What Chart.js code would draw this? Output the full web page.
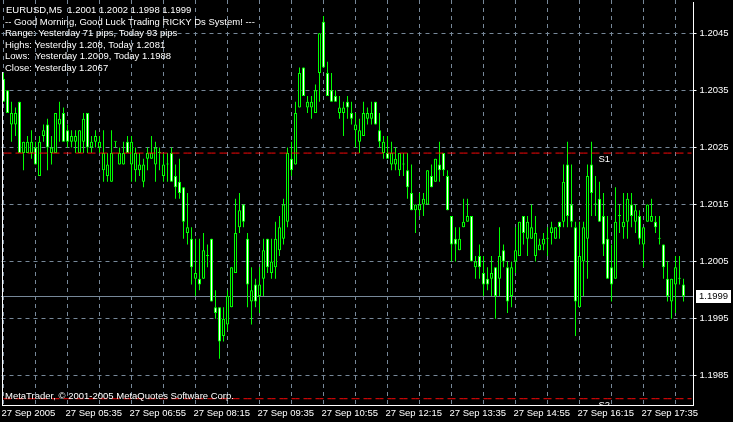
<!DOCTYPE html>
<html>
<head>
<meta charset="utf-8">
<script src="https://cdn.jsdelivr.net/npm/chart.js"></script>
<style>
  html, body { margin: 0; padding: 0; background: #000; }
  canvas { display: block; }
</style>
</head>
<body>
<canvas id="chart" width="733" height="422"></canvas>
<script>
// EURUSD M5, 27 Sep 2005, one bar every 5 minutes starting 04:15
const symbol = 'EURUSD,M5';
const firstBarMinute = 4 * 60 + 15;
const emptyBarsRight = 2;

const opens = [
    1.2037, 1.2035, 1.2029, 1.2029, 1.2033, 1.2024, 1.2024, 1.2024, 1.2025, 1.2020,
    1.2027, 1.2029, 1.2024, 1.2024, 1.2029, 1.2031, 1.2028, 1.2026, 1.2026, 1.2024,
    1.2026, 1.2031, 1.2025, 1.2026, 1.2025, 1.2021, 1.2020, 1.2019, 1.2026, 1.2022,
    1.2022, 1.2026, 1.2022, 1.2021, 1.2021, 1.2019, 1.2023, 1.2023, 1.2022, 1.2024,
    1.2020, 1.2022, 1.2024, 1.2020, 1.2019, 1.2018, 1.2010, 1.2009, 1.2002, 1.2002,
    1.2002, 1.2006, 1.2009, 1.1997, 1.1997, 1.1992, 1.1994, 1.1997, 1.2003, 1.2011,
    1.2015, 1.2009, 1.1998, 1.2001, 1.1999, 1.2002, 1.2009, 1.2003, 1.2004, 1.2007,
    1.2009, 1.2012, 1.2023, 1.2022, 1.2032, 1.2039, 1.2032, 1.2032, 1.2031, 1.2038,
    1.2047, 1.2038, 1.2035, 1.2034, 1.2031, 1.2031, 1.2033, 1.2031, 1.2028, 1.2026,
    1.2027, 1.2030, 1.2030, 1.2033, 1.2028, 1.2024, 1.2024, 1.2022, 1.2022, 1.2021,
    1.2022, 1.2021, 1.2017, 1.2014, 1.2014, 1.2015, 1.2015, 1.2020, 1.2019, 1.2022,
    1.2024, 1.2020, 1.2013, 1.2009, 1.2007, 1.2011, 1.2012, 1.2013, 1.2004, 1.2006,
    1.2003, 1.2002, 1.2002, 1.2004, 1.2002, 1.2007, 1.2004, 1.1999, 1.2005, 1.2006,
    1.2013, 1.2009, 1.2009, 1.2006, 1.2007, 1.2008, 1.2009, 1.2010, 1.2009, 1.2012,
    1.2012, 1.2022, 1.2015, 1.2011, 1.1997, 1.2005, 1.2009, 1.2022, 1.2015, 1.2016,
    1.2013, 1.2009, 1.2004, 1.2002, 1.2013, 1.2011, 1.2012, 1.2015, 1.2012, 1.2013,
    1.2008, 1.2012, 1.2012, 1.2012, 1.2009, 1.2008, 1.2002, 1.1998, 1.2001, 1.2002,
    1.2001
];
const highs = [
    1.2038, 1.2035, 1.2033, 1.2032, 1.2033, 1.2026, 1.2027, 1.2028, 1.2026, 1.2027,
    1.2029, 1.2030, 1.2027, 1.2031, 1.2033, 1.2032, 1.2029, 1.2028, 1.2028, 1.2028,
    1.2031, 1.2031, 1.2027, 1.2028, 1.2027, 1.2028, 1.2024, 1.2028, 1.2026, 1.2025,
    1.2026, 1.2027, 1.2027, 1.2025, 1.2024, 1.2023, 1.2025, 1.2027, 1.2026, 1.2025,
    1.2024, 1.2024, 1.2025, 1.2022, 1.2023, 1.2018, 1.2017, 1.2011, 1.2009, 1.2009,
    1.2010, 1.2008, 1.2009, 1.2000, 1.1997, 1.1997, 1.2000, 1.2004, 1.2016, 1.2017,
    1.2015, 1.2010, 1.2004, 1.2002, 1.2004, 1.2009, 1.2009, 1.2009, 1.2012, 1.2013,
    1.2016, 1.2025, 1.2026, 1.2033, 1.2039, 1.2039, 1.2034, 1.2034, 1.2036, 1.2045,
    1.2048, 1.2040, 1.2038, 1.2035, 1.2034, 1.2033, 1.2034, 1.2033, 1.2031, 1.2030,
    1.2033, 1.2032, 1.2033, 1.2033, 1.2031, 1.2027, 1.2027, 1.2026, 1.2025, 1.2024,
    1.2024, 1.2024, 1.2022, 1.2015, 1.2017, 1.2017, 1.2021, 1.2022, 1.2023, 1.2026,
    1.2024, 1.2021, 1.2013, 1.2011, 1.2011, 1.2016, 1.2016, 1.2013, 1.2006, 1.2008,
    1.2006, 1.2004, 1.2006, 1.2004, 1.2011, 1.2008, 1.2005, 1.2005, 1.2011, 1.2012,
    1.2013, 1.2013, 1.2015, 1.2013, 1.2009, 1.2010, 1.2011, 1.2012, 1.2011, 1.2012,
    1.2022, 1.2026, 1.2022, 1.2012, 1.2012, 1.2012, 1.2022, 1.2026, 1.2020, 1.2019,
    1.2017, 1.2013, 1.2008, 1.2018, 1.2015, 1.2017, 1.2017, 1.2017, 1.2015, 1.2014,
    1.2011, 1.2015, 1.2016, 1.2013, 1.2013, 1.2008, 1.2005, 1.2002, 1.2006, 1.2006,
    1.2002
];
const lows = [
    1.2033, 1.2031, 1.2026, 1.2027, 1.2024, 1.2021, 1.2024, 1.2023, 1.2022, 1.2020,
    1.2026, 1.2021, 1.2022, 1.2024, 1.2026, 1.2026, 1.2025, 1.2025, 1.2024, 1.2024,
    1.2024, 1.2024, 1.2024, 1.2025, 1.2024, 1.2019, 1.2019, 1.2019, 1.2025, 1.2022,
    1.2022, 1.2024, 1.2019, 1.2019, 1.2020, 1.2018, 1.2021, 1.2023, 1.2019, 1.2021,
    1.2019, 1.2019, 1.2019, 1.2016, 1.2016, 1.2009, 1.2008, 1.2001, 1.1999, 1.2000,
    1.2002, 1.2004, 1.1998, 1.1995, 1.1988, 1.1991, 1.1993, 1.1997, 1.2003, 1.2010,
    1.2011, 1.1997, 1.1994, 1.1997, 1.1996, 1.1999, 1.2003, 1.2002, 1.2002, 1.2006,
    1.2008, 1.2011, 1.2020, 1.2022, 1.2032, 1.2034, 1.2031, 1.2030, 1.2031, 1.2033,
    1.2039, 1.2034, 1.2033, 1.2033, 1.2030, 1.2027, 1.2030, 1.2029, 1.2025, 1.2024,
    1.2027, 1.2029, 1.2029, 1.2029, 1.2025, 1.2023, 1.2023, 1.2021, 1.2021, 1.2020,
    1.2020, 1.2016, 1.2014, 1.2010, 1.2013, 1.2013, 1.2015, 1.2018, 1.2019, 1.2019,
    1.2020, 1.2014, 1.2005, 1.2005, 1.2007, 1.2011, 1.2012, 1.2005, 1.2002, 1.2002,
    1.1999, 1.2000, 1.1999, 1.1995, 1.1999, 1.2004, 1.1996, 1.1997, 1.2003, 1.2006,
    1.2008, 1.2006, 1.2009, 1.2005, 1.2007, 1.2007, 1.2006, 1.2008, 1.2009, 1.2009,
    1.2011, 1.2011, 1.2011, 1.1992, 1.1997, 1.1999, 1.2002, 1.2013, 1.2013, 1.2012,
    1.2006, 1.2002, 1.1998, 1.2002, 1.2010, 1.2009, 1.2009, 1.2011, 1.2010, 1.2008,
    1.2004, 1.2012, 1.2012, 1.2010, 1.2008, 1.2002, 1.1998, 1.1995, 1.1996, 1.2001,
    1.1998
];
const closes = [
    1.2033, 1.2031, 1.2031, 1.2031, 1.2024, 1.2026, 1.2026, 1.2026, 1.2022, 1.2026,
    1.2028, 1.2025, 1.2025, 1.2031, 1.2030, 1.2026, 1.2026, 1.2027, 1.2027, 1.2028,
    1.2030, 1.2025, 1.2026, 1.2027, 1.2026, 1.2024, 1.2022, 1.2024, 1.2026, 1.2024,
    1.2024, 1.2024, 1.2026, 1.2024, 1.2022, 1.2022, 1.2024, 1.2024, 1.2025, 1.2024,
    1.2022, 1.2022, 1.2019, 1.2018, 1.2017, 1.2012, 1.2011, 1.2004, 1.2003, 1.2001,
    1.2007, 1.2006, 1.1998, 1.1996, 1.1991, 1.1995, 1.1999, 1.2004, 1.2010, 1.2014,
    1.2012, 1.2001, 1.2000, 1.1998, 1.2001, 1.2007, 1.2004, 1.2005, 1.2009, 1.2011,
    1.2015, 1.2024, 1.2021, 1.2031, 1.2038, 1.2034, 1.2033, 1.2033, 1.2035, 1.2045,
    1.2039, 1.2034, 1.2033, 1.2033, 1.2032, 1.2032, 1.2032, 1.2030, 1.2029, 1.2028,
    1.2031, 1.2031, 1.2031, 1.2029, 1.2026, 1.2026, 1.2023, 1.2024, 1.2023, 1.2024,
    1.2022, 1.2018, 1.2014, 1.2015, 1.2015, 1.2016, 1.2021, 1.2018, 1.2023, 1.2021,
    1.2021, 1.2014, 1.2008, 1.2008, 1.2009, 1.2012, 1.2013, 1.2005, 1.2005, 1.2004,
    1.2001, 1.2001, 1.2003, 1.1999, 1.2006, 1.2005, 1.1998, 1.2004, 1.2007, 1.2012,
    1.2010, 1.2012, 1.2011, 1.2010, 1.2008, 1.2009, 1.2009, 1.2011, 1.2011, 1.2011,
    1.2019, 1.2013, 1.2012, 1.1998, 1.2006, 1.2011, 1.2020, 1.2017, 1.2015, 1.2012,
    1.2008, 1.2002, 1.2001, 1.2012, 1.2013, 1.2012, 1.2016, 1.2013, 1.2014, 1.2009,
    1.2011, 1.2015, 1.2013, 1.2011, 1.2009, 1.2004, 1.1999, 1.2002, 1.2004, 1.2002,
    1.1999
];

const tickLabels = [
    '27 Sep 2005', '27 Sep 05:35', '27 Sep 06:55', '27 Sep 08:15', '27 Sep 09:35', '27 Sep 10:55',
    '27 Sep 12:15', '27 Sep 13:35', '27 Sep 14:55', '27 Sep 16:15', '27 Sep 17:35'
];
const priceTicks = [1.1985, 1.1995, 1.2005, 1.2015, 1.2025, 1.2035, 1.2045];
const levelNames = ['S1', 'S2'];
const levelValues = [1.2024, 1.1981];

const infoLines = [
    '-- Good Morning, Good Luck Trading RICKY Ds System! ---',
    'Range: Yesterday 71 pips, Today 93 pips',
    'Highs: Yesterday 1.208, Today 1.2081',
    'Lows:  Yesterday 1.2009, Today 1.1988',
    'Close: Yesterday 1.2067'
];
const copyright = 'MetaTrader, \u00a9 2001-2005 MetaQuotes Software Corp.';

const green = '#00ff00';
const gridColor = '#778899';
const levelColor = 'rgb(248, 8, 8)';
const fontFamily = "'Liberation Sans', Arial, sans-serif";
const fontSize = 9.5;

// bar time labels (M5)
const barTimes = [];
for (let i = 0; i < opens.length + emptyBarsRight; i++) {
    const m = firstBarMinute + i * 5;
    barTimes.push(String(Math.floor(m / 60)).padStart(2, '0') + ':' + String(m % 60).padStart(2, '0'));
}

const last = opens.length - 1;
const lastPrice = closes[last];

// one dashed level line per support value, drawn by the library as line datasets
const levelDatasets = levelValues.map((v, i) => ({
    type: 'line',
    label: levelNames[i],
    data: barTimes.map(() => v),
    borderColor: levelColor,
    backgroundColor: levelColor,
    borderWidth: 1,
    borderDash: [8, 4],
    pointRadius: 0,
    fill: false,
    order: 0
}));

// price line, frame and text labels
const overlay = {
    id: 'overlay',
    beforeDatasetsDraw(chart) {
        const { ctx, chartArea: a, scales: { y } } = chart;
        const py = Math.round(y.getPixelForValue(lastPrice));
        ctx.save();
        ctx.fillStyle = gridColor;
        ctx.fillRect(Math.floor(a.left), py, Math.round(a.right) - Math.floor(a.left), 1);
        ctx.restore();
    },
    afterDraw(chart) {
        const { ctx, chartArea: a, scales: { x, y } } = chart;
        ctx.save();

        // frame
        ctx.fillStyle = '#ffffff';
        ctx.fillRect(2, 72, 1, Math.round(a.bottom) - 72 + 1);
        ctx.fillRect(2, Math.round(a.bottom), Math.round(a.right) - 2, 1);
        ctx.fillRect(Math.round(a.right) - 1, 2, 1, Math.round(a.bottom) - 1);

        ctx.font = fontSize + 'px ' + fontFamily;
        ctx.textBaseline = 'middle';
        ctx.textAlign = 'left';
        ctx.fillStyle = '#ffffff';

        // header + indicator comment
        const header = symbol + '  ' + opens[last].toFixed(4) + ' ' + highs[last].toFixed(4) + ' ' +
            lows[last].toFixed(4) + ' ' + closes[last].toFixed(4);
        ctx.fillText(header, 6, 10.5);
        infoLines.forEach((t, i) => ctx.fillText(t, 5, 22 + i * 11.5));
        ctx.fillText(copyright, 5, 396);

        // level names
        ctx.save();
        ctx.beginPath();
        ctx.rect(a.left, a.top, a.right - a.left, a.bottom - a.top);
        ctx.clip();
        ctx.textBaseline = 'top';
        levelNames.forEach((n, i) => {
            const ly = Math.round(y.getPixelForValue(levelValues[i]));
            ctx.fillText(n, x.getPixelForValue(149) - 1, ly + 2);
        });
        ctx.restore();

        // last price box
        const py = Math.round(y.getPixelForValue(lastPrice));
        ctx.fillStyle = '#ffffff';
        ctx.fillRect(Math.round(a.right) + 2, py - 6, 35, 13);
        ctx.fillStyle = '#000000';
        ctx.fillText(lastPrice.toFixed(4), Math.round(a.right) + 5, py + 0.5);
        ctx.restore();
    }
};

const ctx = document.getElementById('chart').getContext('2d');
new Chart(ctx, {
    type: 'bar',
    data: {
        labels: barTimes,
        datasets: [
            {
                label: 'wick',
                data: lows.map((l, i) => [l, highs[i]]),
                backgroundColor: green,
                borderWidth: 0,
                barThickness: 1,
                maxBarThickness: 1,
                categoryPercentage: 1,
                barPercentage: 1,
                grouped: false,
                inflateAmount: 0,
                minBarLength: 1,
                order: 2
            },
            {
                label: 'body',
                data: opens.map((o, i) => [o, closes[i]]),
                backgroundColor: c => closes[c.dataIndex] >= opens[c.dataIndex] ? '#000000' : '#ffffff',
                borderColor: green,
                borderWidth: 1,
                borderSkipped: false,
                barThickness: 3,
                maxBarThickness: 3,
                categoryPercentage: 1,
                barPercentage: 1,
                grouped: false,
                inflateAmount: 0,
                minBarLength: 1,
                order: 1
            },
            ...levelDatasets
        ]
    },
    options: {
        responsive: false,
        animation: false,
        events: [],
        devicePixelRatio: 1,
        layout: { padding: { left: 1.5, top: 0, right: 0, bottom: 0 } },
        plugins: {
            legend: { display: false },
            tooltip: { enabled: false }
        },
        scales: {
            x: {
                type: 'category',
                offset: true,
                grid: {
                    offset: false,
                    drawTicks: false,
                    color: c => c.index % 8 === 0 ? gridColor : 'rgba(0,0,0,0)'
                },
                border: { display: false, dash: [4, 4] },
                ticks: {
                    autoSkip: false,
                    maxRotation: 0,
                    minRotation: 0,
                    align: 'start',
                    labelOffset: -2,
                    padding: 3,
                    color: '#ffffff',
                    font: { family: fontFamily, size: fontSize },
                    callback: (v, i) => i % 16 === 0 ? (tickLabels[i / 16] || '') : ''
                },
                afterFit: s => { s.height = 17; s.paddingLeft = 0; s.paddingRight = 0; }
            },
            y: {
                position: 'right',
                min: 1.19799,
                max: 1.20508,
                afterBuildTicks: s => { s.ticks = priceTicks.map(v => ({ value: v })); },
                grid: {
                    color: gridColor,
                    drawTicks: true,
                    tickLength: 3,
                    tickColor: '#ffffff'
                },
                border: { display: false, dash: [4, 4] },
                ticks: {
                    padding: 3,
                    color: '#ffffff',
                    font: { family: fontFamily, size: fontSize },
                    callback: v => v.toFixed(4)
                },
                afterFit: s => { s.width = 39.5; s.paddingTop = 0; s.paddingBottom = 0; }
            }
        }
    },
    plugins: [overlay]
});
</script>
</body>
</html>
